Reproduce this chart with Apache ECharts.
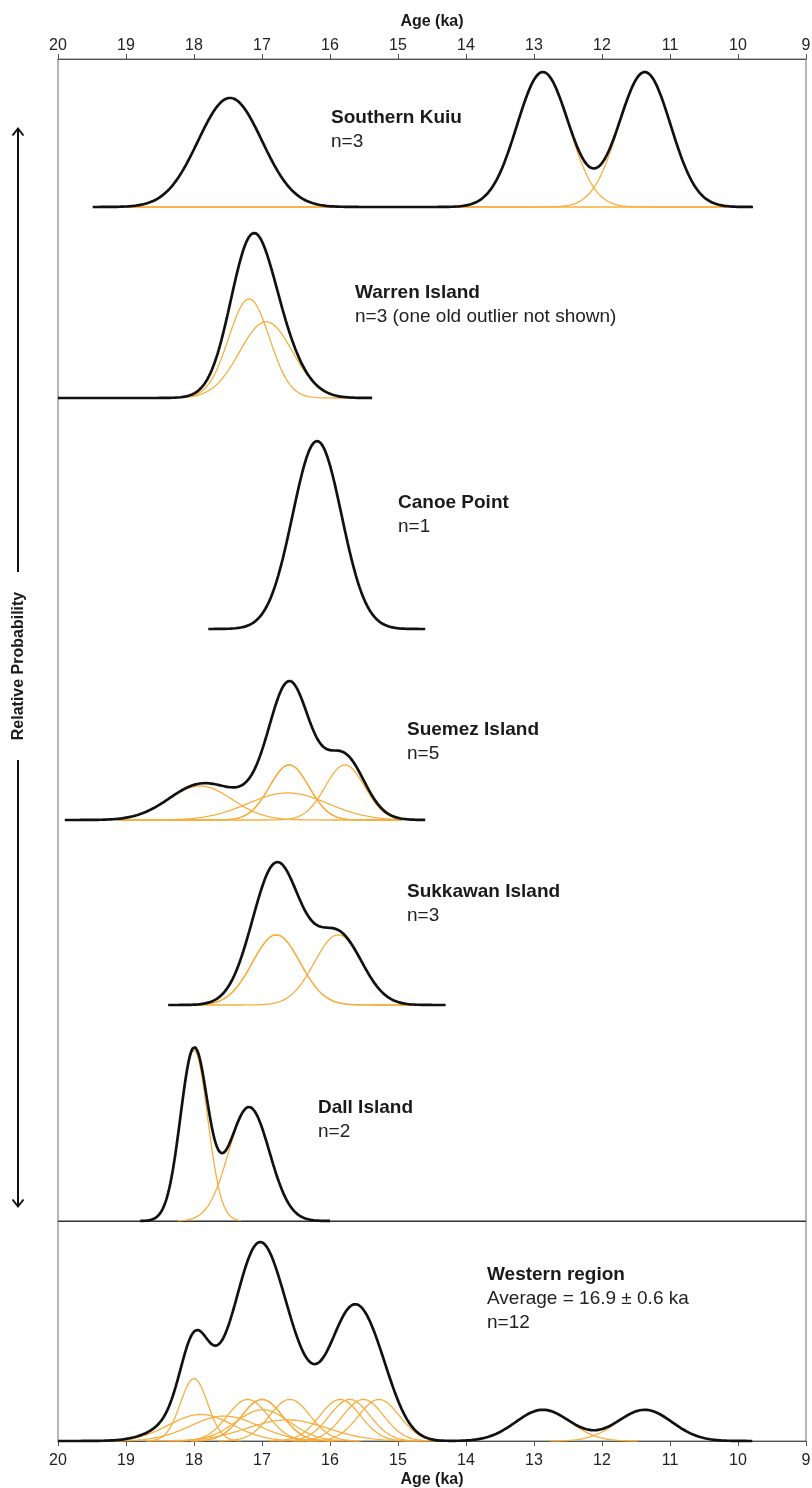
<!DOCTYPE html>
<html>
<head>
<meta charset="utf-8">
<script src="https://cdn.jsdelivr.net/npm/echarts@6/dist/echarts.min.js"></script>
<style>
html,body{margin:0;padding:0;background:#ffffff;}
#chart{width:812px;height:1488px;}
</style>
</head>
<body>
<div id="chart"></div>
<script>
// ---------------- DATA ----------------
const axisMinAge = 9;
const axisMaxAge = 20;
const tickStep = 1;
const axisTitle = 'Age (ka)';
const yTitle = 'Relative Probability';

const panelNames = ['Southern Kuiu', 'Warren Island', 'Canoe Point', 'Suemez Island', 'Sukkawan Island', 'Dall Island', 'Western region'];
const panelNotes = [
  ['n=3'],
  ['n=3 (one old outlier not shown)'],
  ['n=1'],
  ['n=5'],
  ['n=3'],
  ['n=2'],
  ['Average = 16.9 ± 0.6 ka', 'n=12']
];

// ages (ka) and 1-sigma uncertainties (ka) of the individual dates
const southernKuiuAges   = [17.47, 12.87, 11.37];
const southernKuiuSigmas = [0.47, 0.38, 0.38];
const warrenAges   = [17.19, 16.94];
const warrenSigmas = [0.30, 0.39];
const canoeAges   = [16.19];
const canoeSigmas = [0.36];
const suemezAges   = [17.91, 16.60, 16.60, 16.62, 15.78];
const suemezSigmas = [0.47, 0.29, 0.29, 0.59, 0.29];
const sukkawanAges   = [16.79, 16.79, 15.88];
const sukkawanSigmas = [0.35, 0.35, 0.35];
const dallAges   = [18.00, 17.19];
const dallSigmas = [0.20, 0.30];
const westernAges   = [18.00, 17.21, 17.00, 17.00, 16.59, 15.85, 15.71, 15.51, 15.28, 17.90, 17.55, 16.99, 16.63, 12.87, 11.37];
const westernSigmas = [0.20, 0.30, 0.30, 0.30, 0.30, 0.30, 0.30, 0.30, 0.30, 0.47, 0.50, 0.40, 0.59, 0.40, 0.40];

// age span (older, younger) over which each summed curve is drawn
const blackSpans = [[19.49, 9.78], [20, 15.38], [17.79, 14.59], [19.9, 14.6], [18.38, 14.29], [18.79, 16.0], [20, 9.79]];
// age span of the individual curves (null = each date's own +-3.5 sigma window)
const individualSpans = [[19.0, 10.15], [18.2, 15.65], null, [19.13, 14.94], [18.06, 14.75], null, null];
const showIndividual = [true, true, false, true, true, true, true];

// ---------------- LAYOUT ----------------
const plotLeft = 58, plotRight = 6, plotTop = 59, sepY = 1221, plotBottomY = 1441;
const panelBaselines = [207, 398, 629, 820, 1005, 1221, 1441];
const panelHeights   = [135, 165, 188, 139, 143, 174, 199];
const labelPos = [[331, 118], [355, 293], [398, 503], [407, 730], [407, 892], [318, 1108], [487, 1275]];
const lineGap = 24;
const FONT = '"Liberation Sans", Arial, Helvetica, sans-serif';
const BLACK = '#111111';
const ORANGE = '#F8AE3E';

const panelAges = [southernKuiuAges, warrenAges, canoeAges, suemezAges, sukkawanAges, dallAges, westernAges];
const panelSigmas = [southernKuiuSigmas, warrenSigmas, canoeSigmas, suemezSigmas, sukkawanSigmas, dallSigmas, westernSigmas];

function density(mu, s, x) { const d = x - mu; return Math.exp(-d * d / (2 * s * s)) / s; }
function sampleRange(from, to, step) {
  const xs = [];
  for (let x = from; x > to; x -= step) xs.push(+x.toFixed(4));
  xs.push(to);
  return xs;
}

const grids = [
  { left: plotLeft, right: plotRight, top: plotTop, height: sepY - plotTop, outerBoundsMode: 'none', containLabel: false,
    show: true, borderColor: '#6e6e6e', borderWidth: 1, backgroundColor: 'transparent' },
  { left: plotLeft, right: plotRight, top: sepY, height: plotBottomY - sepY, outerBoundsMode: 'none', containLabel: false,
    show: true, borderColor: '#6e6e6e', borderWidth: 1, backgroundColor: 'transparent' }
];
const axisLabelStyle = { fontSize: 16, color: '#222', fontFamily: FONT };
const nameStyle = { fontSize: 16, fontWeight: 'bold', color: '#1a1a1a', fontFamily: FONT };
const xAxes = [
  { gridIndex: 0, type: 'value', position: 'top', min: axisMinAge, max: axisMaxAge, interval: tickStep, inverse: true,
    name: axisTitle, nameLocation: 'middle', nameGap: 29, nameTextStyle: nameStyle,
    axisLine: { onZero: false, lineStyle: { color: '#555', width: 1 } }, axisTick: { length: 5, lineStyle: { color: '#555' } },
    axisLabel: Object.assign({ margin: 5 }, axisLabelStyle), splitLine: { show: false } },
  { gridIndex: 1, type: 'value', position: 'bottom', min: axisMinAge, max: axisMaxAge, interval: tickStep, inverse: true,
    name: axisTitle, nameLocation: 'middle', nameGap: 31, nameTextStyle: nameStyle,
    axisLine: { onZero: false, lineStyle: { color: '#555', width: 1 } }, axisTick: { length: 5, lineStyle: { color: '#555' } },
    axisLabel: Object.assign({ margin: 12 }, axisLabelStyle), splitLine: { show: false } }
];
const yAxes = [
  { gridIndex: 0, type: 'value', show: false, min: 0, max: 1 },
  { gridIndex: 1, type: 'value', show: false, min: 0, max: 1 }
];
const series = [];

panelAges.forEach((ages, p) => {
  const sig = panelSigmas[p];
  const gi = grids.length;
  grids.push({ left: plotLeft, right: plotRight, top: panelBaselines[p] - panelHeights[p], height: panelHeights[p],
    outerBoundsMode: 'none', containLabel: false });
  const xi = xAxes.length, yi = yAxes.length;
  xAxes.push({ gridIndex: gi, type: 'value', show: false, min: axisMinAge, max: axisMaxAge, inverse: true,
    axisLine: { show: false }, axisTick: { show: false }, axisLabel: { show: false } });
  const xs = sampleRange(blackSpans[p][0], blackSpans[p][1], 0.01);
  const sumData = xs.map(x => [x, ages.reduce((acc, mu, i) => acc + density(mu, sig[i], x), 0)]);
  const maxVal = Math.max(...sumData.map(d => d[1]));
  yAxes.push({ gridIndex: gi, type: 'value', show: false, min: 0, max: maxVal });
  if (showIndividual[p]) {
    ages.forEach((mu, i) => {
      const span = individualSpans[p];
      const from = span ? span[0] : Math.min(axisMaxAge, mu + 3.5 * sig[i]);
      const to = span ? span[1] : mu - 3.5 * sig[i];
      const d = sampleRange(from, to, 0.01).map(x => [x, density(mu, sig[i], x)]);
      series.push({ type: 'line', xAxisIndex: xi, yAxisIndex: yi, data: d, symbol: 'none', showSymbol: false,
        clip: false, silent: true, z: 2, lineStyle: { color: ORANGE, width: 1.3 } });
    });
  }
  series.push({ type: 'line', xAxisIndex: xi, yAxisIndex: yi, data: sumData, symbol: 'none', showSymbol: false,
    clip: false, silent: true, z: 3, lineStyle: { color: BLACK, width: 2.7 } });
});

// ---------------- TEXT / DECORATION ----------------
const graphics = [];
panelNames.forEach((name, p) => {
  const [x, y] = labelPos[p];
  graphics.push({ type: 'text', x: x, y: y, silent: true, z: 10,
    style: { text: name, fontSize: 19, fontWeight: 'bold', fontFamily: FONT, fill: '#1a1a1a', verticalAlign: 'middle', align: 'left' } });
  panelNotes[p].forEach((t, k) => {
    graphics.push({ type: 'text', x: x, y: y + lineGap * (k + 1), silent: true, z: 10,
      style: { text: t, fontSize: 19, fontFamily: FONT, fill: '#222', verticalAlign: 'middle', align: 'left' } });
  });
});
graphics.push({ type: 'text', x: 19, y: 666, rotation: Math.PI / 2, silent: true,
  style: { text: yTitle, fontSize: 16, fontWeight: 'bold', fontFamily: FONT, fill: '#1a1a1a', align: 'center', verticalAlign: 'middle' } });
const arrowStyle = { stroke: '#111', lineWidth: 2, fill: null };
graphics.push({ type: 'line', silent: true, shape: { x1: 18, y1: 129, x2: 18, y2: 572 }, style: arrowStyle });
graphics.push({ type: 'polyline', silent: true, shape: { points: [[12.5, 135.5], [18, 128.5], [23.5, 135.5]] }, style: arrowStyle });
graphics.push({ type: 'line', silent: true, shape: { x1: 18, y1: 760, x2: 18, y2: 1206 }, style: arrowStyle });
graphics.push({ type: 'polyline', silent: true, shape: { points: [[12.5, 1199.5], [18, 1206.5], [23.5, 1199.5]] }, style: arrowStyle });
// separator between the site panels and the regional panel
graphics.push({ type: 'line', silent: true, z: 1, shape: { x1: plotLeft, y1: sepY + 0.5, x2: 812 - plotRight, y2: sepY + 0.5 }, style: { stroke: '#333', lineWidth: 1.2 } });

const chart = echarts.init(document.getElementById('chart'), null, { renderer: 'canvas' });
chart.setOption({
  animation: false,
  backgroundColor: '#ffffff',
  grid: grids,
  xAxis: xAxes,
  yAxis: yAxes,
  series: series,
  graphic: graphics
});
</script>
</body>
</html>
